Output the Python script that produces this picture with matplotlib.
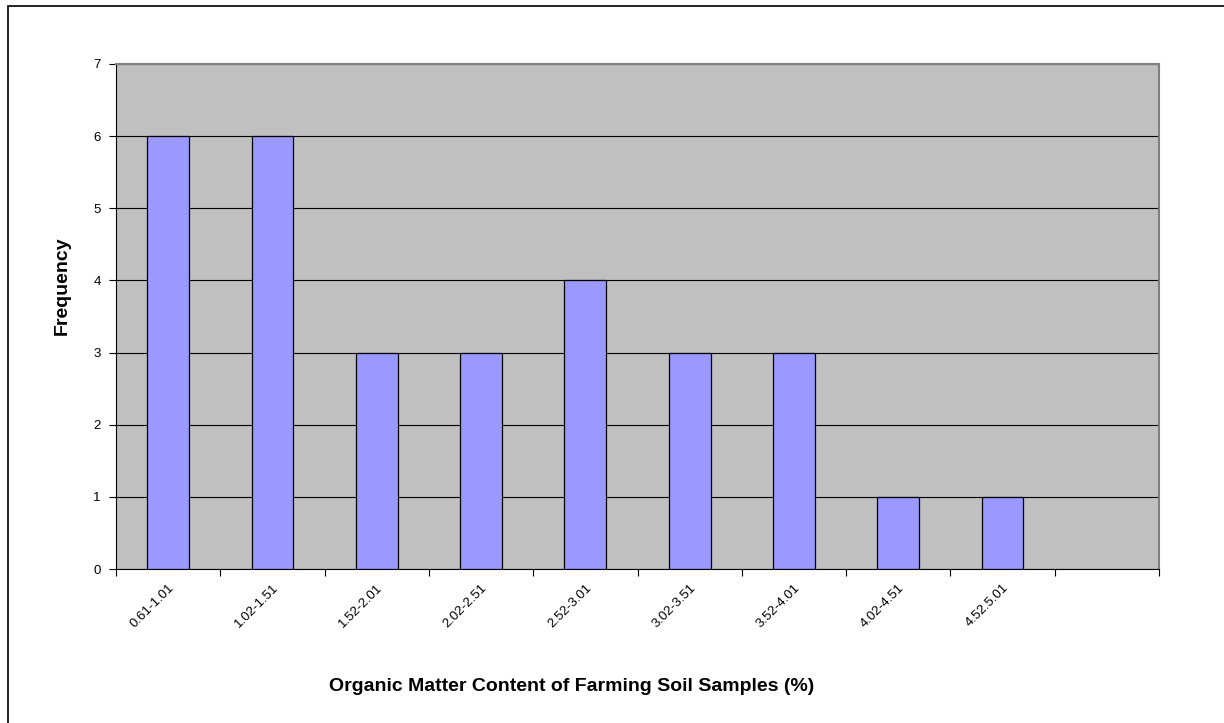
import numpy as np
import matplotlib.pyplot as plt
from matplotlib.patches import Rectangle

plt.rcParams['font.family'] = ['Liberation Sans', 'DejaVu Sans']

# data
bins = ['0.61-1.01', '1.02-1.51', '1.52-2.01', '2.02-2.51', '2.52-3.01',
        '3.02-3.51', '3.52-4.01', '4.02-4.51', '4.52.5.01', '']
freq = [6, 6, 3, 3, 4, 3, 3, 1, 1, 0]

fig = plt.figure(figsize=(12.24, 7.23), dpi=100)
# outer chart border
fig.patches.append(Rectangle((8 / 1224, -0.01), 1.02, 1 - 6 / 723 + 0.01,
                             transform=fig.transFigure, fill=False,
                             edgecolor='black', linewidth=1.2))

ax = fig.add_axes([116 / 1224, 1 - 569 / 723, (1159 - 116) / 1224, (569 - 64) / 723])
ax.set_facecolor('#C0C0C0')

x = np.arange(len(bins))
ax.bar(x[:9], freq[:9], width=0.4, color='#9999FF', edgecolor='black',
       linewidth=0.9, zorder=3)

ax.set_xlim(-0.5, len(bins) - 0.5)
ax.set_ylim(0, 7)
ax.set_yticks(range(0, 8))
ax.yaxis.grid(True, color='black', linewidth=0.8, zorder=1)
ax.set_axisbelow(True)

# boundaries get tick marks, centers get labels
ax.set_xticks(np.arange(-0.5, len(bins)), labels=[''] * (len(bins) + 1))
ax.set_xticks(x, labels=bins, minor=True)
ax.tick_params(axis='x', which='minor', length=0, pad=9)
ax.tick_params(axis='x', which='major', length=5, width=0.8)
ax.tick_params(axis='y', length=5, width=0.8, labelsize=9.5, pad=6)
for lab in ax.get_xticklabels(minor=True):
    lab.set_rotation(45)
    lab.set_ha('right')
    lab.set_rotation_mode('anchor')
    lab.set_fontsize(9.5)

for side in ['top', 'right']:
    ax.spines[side].set_color('#808080')
    ax.spines[side].set_linewidth(1.5)
ax.spines['left'].set_color('black')
ax.spines['bottom'].set_color('black')

ax.set_xlabel('Organic Matter Content of Farming Soil Samples (%)',
              fontsize=14, fontweight='bold')
ax.set_ylabel('Frequency', fontsize=14, fontweight='bold')
ax.xaxis.set_label_coords(0.437, -0.232)
ax.xaxis.label.set_va('center')
ax.yaxis.set_label_coords(-0.052, 0.562)
ax.yaxis.label.set_va('center')

fig.savefig('out.png', dpi=100)
